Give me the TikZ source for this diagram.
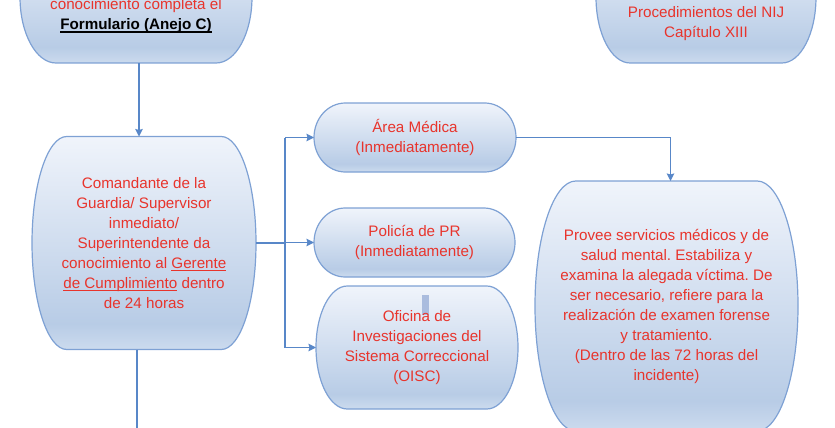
\documentclass[tikz,border=0pt]{standalone}
\usepackage{fontspec}
\setmainfont{Liberation Sans}
\usetikzlibrary{backgrounds,calc,arrows.meta}

\definecolor{txtred}{RGB}{232,52,44}
\definecolor{edgeblue}{RGB}{126,161,212}
\definecolor{linkblue}{RGB}{88,135,200}
\definecolor{filltop}{RGB}{240,244,251}
\definecolor{filldark}{RGB}{184,204,230}
\definecolor{fillbot}{RGB}{204,219,238}
\definecolor{cursorblue}{RGB}{170,188,222}

\pgfdeclareverticalshading{boxfill}{100bp}{color(0bp)=(fillbot); color(25bp)=(fillbot);
  color(31bp)=(filldark); color(75bp)=(filltop); color(100bp)=(filltop)}

\newcommand{\undl}[1]{\setbox0\hbox{#1}\rlap{\rule[-2.6pt]{\wd0}{1.3pt}}\box0\relax}

\tikzset{
  flow/.style={align=center, text=txtred, inner sep=0pt, outer sep=0pt,
    font=\fontsize{15.2}{20}\selectfont\frenchspacing},
  link/.style={draw=linkblue, line width=1.3pt},
  tip/.style={-{Stealth[length=7.5pt, width=7.5pt, inset=1pt]}},
  termfill/.style={draw=edgeblue, line width=1.2pt, shade, shading=boxfill}
}

\newcommand{\termshape}[1]{%
  \path[termfill] let \p1=(#1.south west), \p2=(#1.north east),
    \n1={0.155*(\x2-\x1)}, \n2={0.5*(\y2-\y1)} in
    ({\x1+\n1},\y2) -- ({\x2-\n1},\y2)
    arc[start angle=90, end angle=-90, x radius={\n1*1pt}, y radius={\n2*1pt}]
    -- ({\x1+\n1},\y1)
    arc[start angle=270, end angle=90, x radius={\n1*1pt}, y radius={\n2*1pt}]
    -- cycle;}

\begin{document}
\begin{tikzpicture}[x=1pt, y=-1pt]

  \useasboundingbox (0,0) rectangle (835,428);

  \node[flow, minimum width=232pt, minimum height=132pt,
    label={[flow, yshift=-19pt]center:{conocimiento completa el\\
      {\bfseries\color{black}\undl{Formulario (Anejo C)}}}}] (inicio) at (136,-3) {};

  \node[flow, minimum width=220pt, minimum height=132pt,
    label={[flow, yshift=-26.5pt]center:{Procedimientos del NIJ\\Capítulo XIII}}] (nij) at (706,-3) {};

  \node[flow, minimum width=224pt, minimum height=213pt] (cmd) at (144,243)
  {Comandante de la\\Guardia/ Supervisor\\inmediato/\\Superintendente da\\
    conocimiento al \undl{Gerente}\\\undl{de Cumplimiento} dentro\\de 24 horas};

  \node[flow, minimum width=202pt, minimum height=69pt] (med) at (415,137.5)
  {Área Médica\\(Inmediatamente)};
  \node[flow, minimum width=201pt, minimum height=69pt] (pol) at (414.5,242.5)
  {Policía de PR\\(Inmediatamente)};
  \node[flow, minimum width=202pt, minimum height=123pt] (oisc) at (417,347.5)
  {Oficina de\\Investigaciones del\\Sistema Correccional\\(OISC)};

  \node[flow, minimum width=263pt, minimum height=250pt] (provee) at (666.5,306)
  {Provee servicios médicos y de\\salud mental. Estabiliza y\\
    examina la alegada víctima. De\\ser necesario, refiere para la\\
    realización de examen forense\\y tratamiento.\\
    (Dentro de las 72 horas del\\incidente)};

  \begin{pgfonlayer}{background}
    \foreach \bx in {inicio,nij,cmd,med,pol,oisc,provee}
      \termshape{\bx};
    \fill[cursorblue] (421.7,295) rectangle (429,315);
  \end{pgfonlayer}

  \coordinate (split) at (285,243);
  \coordinate (exit) at (137,432);

  \draw[link, tip] ([xshift=3pt]inicio.south) -- ([xshift=3pt]inicio.south |- cmd.north);
  \draw[link] (cmd.east) -- (split);
  \draw[link] (split |- med.west) -- (split |- oisc.west);
  \foreach \bx in {med,pol,oisc}{
      \draw[link, tip] (split |- \bx.west) -- (\bx.west);
    }
  \draw[link, tip] (med.east) -| ([xshift=4pt]provee.north);
  \draw[link] (exit |- cmd.south) -- (exit);

\end{tikzpicture}
\end{document}
